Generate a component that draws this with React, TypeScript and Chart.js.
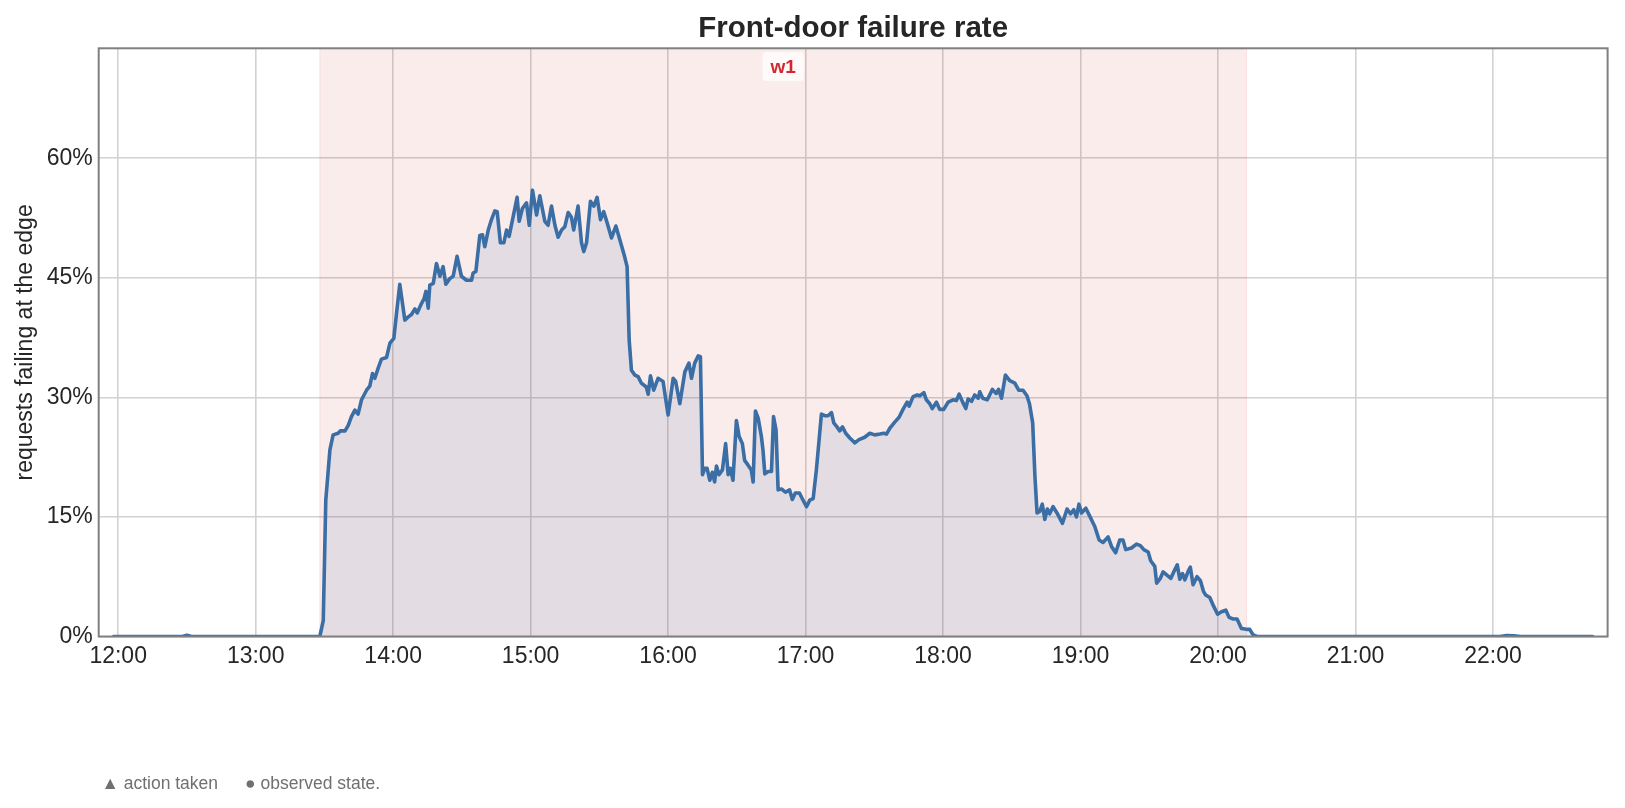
import { useEffect, useRef } from "react";
import { Chart, registerables } from "chart.js";

Chart.register(...registerables);

// minutes after 12:00
const minutesSinceNoon = [
  -2, 28, 30, 32, 88, 89.5, 90.6, 92.4, 93.8, 96, 97, 99, 100.4, 101.8, 103.3, 104.7, 106.2, 108.4, 109.8, 111,
  112, 113.5, 114.9, 117.1, 118.6, 120.3, 121.5, 122.9, 125.1, 126.6, 128, 129.5, 130.5, 132.4, 133.5, 134.3,
  135.3, 136, 137.5, 138.9, 140.4, 141.8, 143, 144.7, 146.2, 147.9, 149.8, 152, 154.2, 154.9, 156.1, 157.8, 159,
  160, 161.5, 162.9, 164.4, 165.4, 166.8, 168.3, 169.5, 170.6, 172.4, 174.1, 175, 176.4, 178.2, 179.4, 180.8,
  182.6, 184, 186.2, 187.6, 189.1, 190.6, 192, 193.5, 194.9, 196.4, 197.8, 198.8, 200.7, 202.2, 203.2, 204.4,
  206.1, 207.6, 209, 210.5, 211.9, 213.4, 215.3, 217.2, 218.9, 220.8, 222.1, 223, 224, 225.5, 226.9, 228.3,
  230.5, 231.3, 232.3, 233.7, 235.6, 237.8, 240, 242.2, 243.3, 245.1, 247.3, 249.1, 250.2, 251.6, 253.1, 254.1,
  255, 256, 257, 258.2, 259.3, 260.3, 261.1, 262.2, 263.7, 265.1, 266.2, 267.2, 268.3, 269.8, 271, 272.4, 273.4,
  274.9, 276.3, 277.1, 278.1, 279.3, 280.7, 281.4, 282.2, 283.6, 285.1, 286, 287.1, 288, 289.6, 291.2, 293,
  294.2, 295.5, 297.3, 298.9, 300.4, 301.8, 303.3, 304.7, 305.9, 306.9, 308.4, 309.8, 311.3, 312.3, 313.7,
  314.9, 316.1, 317.5, 319.3, 321.5, 323.3, 325.8, 328, 330.2, 332.4, 334.1, 335.3, 336.7, 338.9, 340.8, 342.5,
  344.3, 345.2, 346.9, 348.7, 349.8, 351.6, 352.7, 354.2, 355.3, 357.1, 358.5, 360.3, 362.2, 364.4, 365.8, 367,
  368.4, 369.9, 370.9, 372.4, 373.8, 375.3, 376, 377.3, 379.3, 381.5, 383.2, 384.2, 385.5, 387.2, 389.1, 391.3,
  393, 394.9, 396.6, 397.7, 399.1, 400.1, 401, 402.2, 403.3, 404.4, 405.5, 406.5, 408, 409.7, 412.1, 414.1,
  415.6, 417, 418.2, 419.3, 420.4, 422.3, 424, 426.2, 428.1, 429.8, 432, 433.5, 435.3, 437.1, 438.5, 439.7,
  442.2, 444.4, 446.1, 447.6, 449.5, 450.6, 452.4, 453.2, 454.8, 456, 457.7, 459.4, 461, 462.2, 463.3, 464.5,
  465.5, 467, 467.9, 469.1, 470.8, 472.3, 473.6, 474.6, 476.4, 477.9, 479.8, 481.5, 483.4, 484.8, 486.6, 488.3,
  490.2, 492.4, 493.8, 495.3, 497, 603, 606, 609, 612, 643.5,
];

// percent of requests failing at the edge
const failurePct = [
  0, 0, 0.15, 0, 0, 2, 17.1, 23.4, 25.3, 25.5, 25.8, 25.8, 26.5, 27.6, 28.4, 27.9, 29.7, 30.9, 31.4, 33,
  32.4, 33.7, 34.8, 35, 36.8, 37.4, 40.6, 44.2, 39.7, 40.1, 40.4, 41.1, 40.6, 41.8, 42.4, 43.3,
  41.2, 44.1, 44.3, 46.8, 45.2, 46.4, 44.2, 44.9, 45.2, 47.7, 45.2, 44.7, 44.7, 45.6, 45.8, 50.3, 50.4,
  48.9, 51, 52.3, 53.4, 53.3, 49.4, 49.4, 51, 50.2, 52.7, 55.1, 52.1, 53.7, 54.4, 51.6, 56,
  52.9, 55.3, 52.1, 51.6, 54, 51.6, 50.1, 51, 51.4, 53.2, 52.6, 51, 54, 49.4, 48.3, 49.4,
  54.6, 54, 55.1, 52.3, 53.3, 51.9, 50, 51.5, 49.8, 47.9, 46.4, 37.2, 33.4, 32.8, 32.6, 31.8,
  31.3, 30.4, 32.7, 30.9, 32.4, 32, 27.8, 32.4, 32, 29.2, 33.2, 34.3, 32.4, 34.3, 35.2, 35.1,
  20.3, 21.1, 21.1, 19.6, 20.6, 19.4, 21.4, 20.3, 20.9, 24.2, 20.3, 21.1, 19.6, 27.1, 25.1, 24.2, 22.1,
  21.5, 20.9, 19.4, 28.3, 27.4, 25.1, 23.4, 20.4, 20.7, 20.7, 27.6, 25.9, 18.4, 18.5, 18.1, 18.4,
  17.2, 18, 18, 17.1, 16.3, 17.1, 17.3, 20.9, 24.7, 27.9, 27.7, 27.7, 28.1, 26.8, 26.3,
  25.8, 26.3, 25.5, 24.9, 24.3, 24.7, 25, 25.5, 25.3, 25.4, 25.5, 25.4, 26.1, 26.9, 27.5, 28.5,
  29.4, 28.9, 30.1, 30.3, 30.2, 30.6, 29.7, 29.2, 28.6, 29.4, 28.5, 28.5, 29.4, 29.7, 29.6, 30.4,
  29.5, 28.6, 29.8, 29.5, 30.3, 29.9, 30.7, 29.9, 29.7, 31, 30.5, 31, 29.9, 32.8, 32.1, 31.8,
  30.9, 30.9, 30.2, 29.2, 26.8, 20, 15.5, 15.7, 16.6, 14.7, 16, 15.4, 16.3, 15.5, 14.2, 16,
  15.4, 15.9, 15, 16.6, 15.5, 16.1, 15.1, 13.8, 12.1, 11.8, 12.5, 11.3, 10.5, 12.1, 12.1, 10.9,
  11.1, 11.6, 11.4, 10.9, 10.6, 9.5, 8.8, 6.7, 7.3, 8.1, 7.7, 7.3, 8.3, 9, 7.2, 7.9,
  7.1, 8.2, 8.7, 6.5, 7.5, 7, 5.7, 5.2, 4.9, 3.9, 2.8, 3.1, 3.3, 2.4, 2.2, 2.2,
  1, 0.9, 0.9, 0.2, 0, 0, 0.12, 0.1, 0, 0,
];

const hourTicks = [0, 60, 120, 180, 240, 300, 360, 420, 480, 540, 600];
const hourLabels = ["12:00", "13:00", "14:00", "15:00", "16:00", "17:00", "18:00", "19:00", "20:00", "21:00", "22:00"];
const pctTicks = [0, 15, 30, 45, 60];
const pctLabels = ["0%", "15%", "30%", "45%", "60%"];

const windowStart = 88; // 13:28
const windowEnd = 492.4; // 20:12
const windowLabel = "w1";

const chartTitle = "Front-door failure rate";
const yAxisTitle = "requests failing at the edge";
const footActions = "▲ action taken";
const footObserved = "● observed state.";

const FONT = "'Liberation Sans', Arial, Helvetica, sans-serif";
const TEXT = "#262626";
const LINE = "#3a6ea5";

const overlayPlugin = {
  id: "overlay",
  beforeDatasetsDraw(chart: any) {
    const { ctx, chartArea, scales } = chart;
    const x0 = scales.x.getPixelForValue(windowStart);
    const x1 = scales.x.getPixelForValue(windowEnd);
    ctx.save();
    ctx.fillStyle = "rgba(214,39,40,0.085)";
    ctx.fillRect(x0, chartArea.top, x1 - x0, chartArea.bottom - chartArea.top);
    ctx.strokeStyle = "rgba(214,39,40,0.10)";
    ctx.lineWidth = 1;
    ctx.beginPath();
    ctx.moveTo(x0, chartArea.top);
    ctx.lineTo(x0, chartArea.bottom);
    ctx.moveTo(x1, chartArea.top);
    ctx.lineTo(x1, chartArea.bottom);
    ctx.stroke();
    ctx.restore();
  },
  afterDatasetsDraw(chart: any) {
    const { ctx, chartArea, scales } = chart;
    ctx.save();
    ctx.strokeStyle = "#808080";
    ctx.lineWidth = 2;
    ctx.strokeRect(chartArea.left, chartArea.top, chartArea.right - chartArea.left, chartArea.bottom - chartArea.top);
    // window label
    const cx = (scales.x.getPixelForValue(windowStart) + scales.x.getPixelForValue(windowEnd)) / 2;
    const cy = 66.5;
    ctx.font = `bold 19px ${FONT}`;
    const w = ctx.measureText(windowLabel).width + 16;
    const h = 29;
    ctx.fillStyle = "rgba(255,255,255,0.75)";
    ctx.beginPath();
    (ctx as any).roundRect(cx - w / 2, cy - h / 2, w, h, 4);
    ctx.fill();
    ctx.fillStyle = "#d0282e";
    ctx.textAlign = "center";
    ctx.textBaseline = "middle";
    ctx.fillText(windowLabel, cx, cy + 1);
    ctx.restore();
  },
  afterDraw(chart: any) {
    const { ctx, chartArea } = chart;
    ctx.save();
    ctx.fillStyle = TEXT;
    ctx.font = `bold 29.5px ${FONT}`;
    ctx.textAlign = "center";
    ctx.textBaseline = "middle";
    ctx.fillText(chartTitle, (chartArea.left + chartArea.right) / 2, 29);
    ctx.fillStyle = "#707070";
    ctx.font = `17.5px ${FONT}`;
    ctx.textAlign = "left";
    ctx.fillText(footActions, 101.5, 784);
    ctx.fillText(footObserved, 245, 784);
    ctx.restore();
  },
};

export default function App() {
  const ref = useRef<HTMLCanvasElement | null>(null);

  useEffect(() => {
    if (!ref.current) return;
    const chart = new Chart(ref.current, {
      type: "line",
      data: {
        datasets: [
          {
            data: minutesSinceNoon.map((t, i) => ({ x: t, y: failurePct[i] })),
            borderColor: LINE,
            borderWidth: 3.6,
            backgroundColor: "rgba(58,110,165,0.12)",
            fill: "origin",
            pointRadius: 0,
            tension: 0,
            borderJoinStyle: "round",
            borderCapStyle: "round",
          },
        ],
      },
      options: {
        animation: false,
        responsive: true,
        maintainAspectRatio: false,
        layout: { padding: { top: 48.3, right: 17.4, bottom: 0, left: 0 } },
        plugins: {
          legend: { display: false },
          title: { display: false },
          tooltip: { enabled: false },
        },
        scales: {
          x: {
            type: "linear",
            min: -8.5,
            max: 650,
            afterFit: (s: any) => {
              s.height = 808 - 636.5;
            },
            afterBuildTicks: (s: any) => {
              s.ticks = hourTicks.map((v) => ({ value: v }));
            },
            ticks: {
              autoSkip: false,
              maxRotation: 0,
              padding: 6,
              color: TEXT,
              font: { family: FONT, size: 23 },
              callback: (v: any) => hourLabels[hourTicks.indexOf(Number(v))] ?? "",
            },
            grid: { color: "#d2d2d2", lineWidth: 1.6, drawTicks: false },
            border: { display: false },
          },
          y: {
            type: "linear",
            min: 0,
            max: 73.8,
            afterFit: (s: any) => {
              s.width = 98.7;
            },
            afterBuildTicks: (s: any) => {
              s.ticks = pctTicks.map((v) => ({ value: v }));
            },
            ticks: {
              padding: 6,
              color: TEXT,
              font: { family: FONT, size: 23 },
              callback: (v: any) => pctLabels[pctTicks.indexOf(Number(v))] ?? "",
            },
            grid: { color: "#d2d2d2", lineWidth: 1.6, drawTicks: false },
            border: { display: false },
            title: {
              display: true,
              text: yAxisTitle,
              color: TEXT,
              font: { family: FONT, size: 23, lineHeight: 1.2 },
              padding: { top: 11.5, bottom: 0 },
            },
          },
        },
      },
      plugins: [overlayPlugin],
    });
    return () => chart.destroy();
  }, []);

  return (
    <div style={{ position: "absolute", left: 0, top: 0, width: 1625, height: 808, background: "#fff" }}>
      <canvas ref={ref} />
    </div>
  );
}
